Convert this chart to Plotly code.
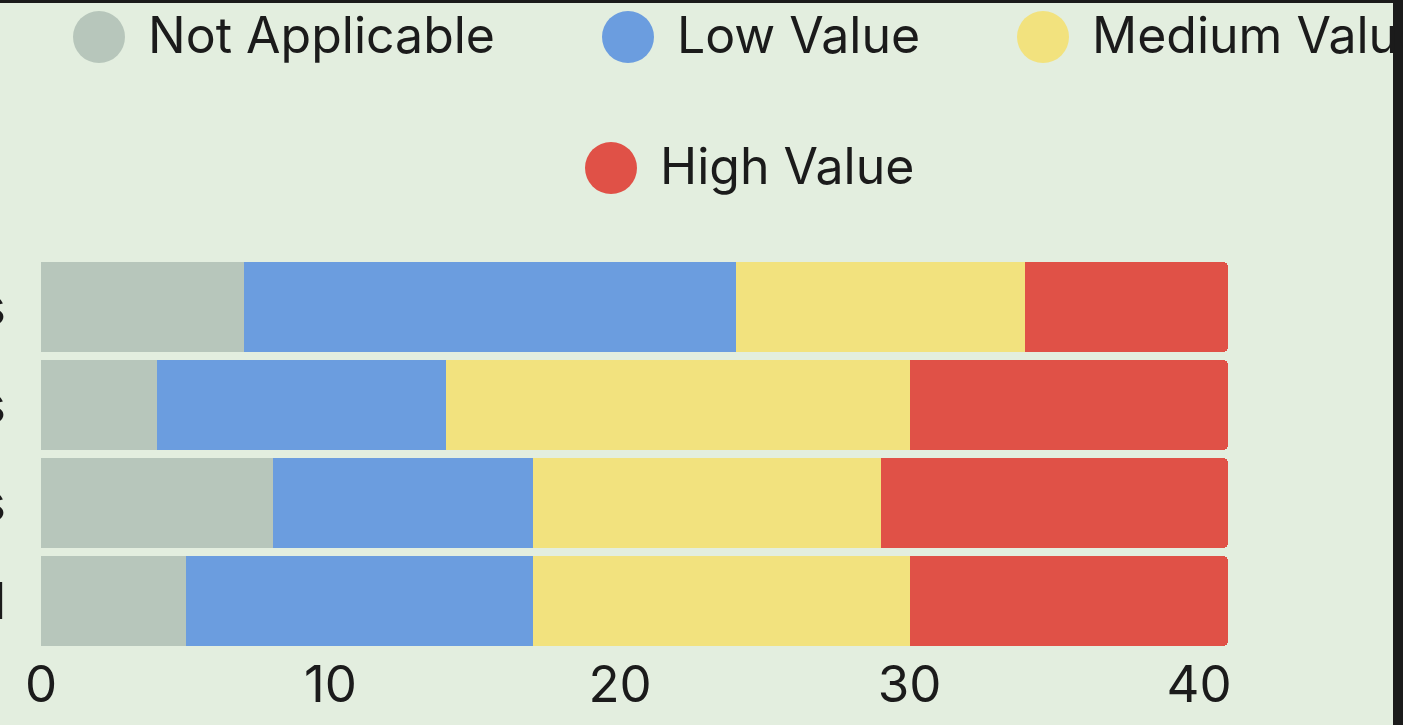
import plotly.graph_objects as go

# ---- data ----
categories = ["Projects", "Services", "Products", "Overall"]  # top to bottom
series_names = ["Not Applicable", "Low Value", "Medium Value", "High Value"]
not_applicable = [7, 4, 8, 5]
low_value = [17, 10, 9, 12]
medium_value = [10, 16, 12, 13]
high_value = [7, 11, 12, 11]
x_ticks = [0, 10, 20, 30, 40]

colors = ["#b7c6bb", "#6b9ddf", "#f2e27e", "#e05147"]
bg = "#e3eedf"
dark = "#1b1b1b"
text_color = "#1b1b1b"
FONT = "Inter"

W, H = 1403, 725
L, R, T, B = 41, 175, 258, 75
PW, PH = W - L - R, H - T - B


def px_x(p):
    return (p - L) / PW


def px_y(p):
    return (H - B - p) / PH


fig = go.Figure()
values = [not_applicable, low_value, medium_value, high_value]
for name, vals, col in zip(series_names, values, colors):
    fig.add_trace(go.Bar(
        y=categories, x=vals, name=name, orientation="h",
        marker=dict(color=col, line=dict(width=0)),
        showlegend=False,
    ))

shapes = [
    # light page area (dark frame on top and right)
    dict(type="rect", xref="paper", yref="paper", layer="below",
         x0=px_x(0), x1=px_x(1393), y0=px_y(H), y1=px_y(3),
         fillcolor=bg, line=dict(width=0)),
]
annotations = []
legend_items = [
    (series_names[0], colors[0], 99, 37),
    (series_names[1], colors[1], 628, 37),
    (series_names[2], colors[2], 1043, 37),
    (series_names[3], colors[3], 611, 168),
]
for name, col, cx, cy in legend_items:
    shapes.append(dict(type="circle", xref="paper", yref="paper", layer="above",
                       x0=px_x(cx - 26), x1=px_x(cx + 26),
                       y0=px_y(cy + 26), y1=px_y(cy - 26),
                       fillcolor=col, line=dict(width=0)))
    annotations.append(dict(xref="paper", yref="paper", x=px_x(cx + 47), y=px_y(cy - 2),
                            xanchor="left", yanchor="middle", showarrow=False,
                            text=name, font=dict(family=FONT, size=50, color=text_color)))

fig.update_layout(
    width=W, height=H,
    margin=dict(l=L, r=R, t=T, b=B, autoexpand=False),
    paper_bgcolor=dark, plot_bgcolor=bg,
    barmode="stack", bargap=8 / 98, barcornerradius=5,
    font=dict(family=FONT, size=50, color=text_color),
    shapes=shapes, annotations=annotations,
    xaxis=dict(range=[0, 41], tickvals=x_ticks, showgrid=False, zeroline=False,
               showline=False, ticks="", automargin=False,
               tickfont=dict(family=FONT, size=51, color=text_color)),
    yaxis=dict(categoryorder="array", categoryarray=categories[::-1],
               showgrid=False, zeroline=False, showline=False, ticks="",
               automargin=False, ticklabelstandoff=34,
               tickfont=dict(family=FONT, size=51, color=text_color)),
)

fig.write_html("out.html", config={"displayModeBar": False},
               post_script="document.body.style.margin='0';document.body.style.overflow='hidden';")
